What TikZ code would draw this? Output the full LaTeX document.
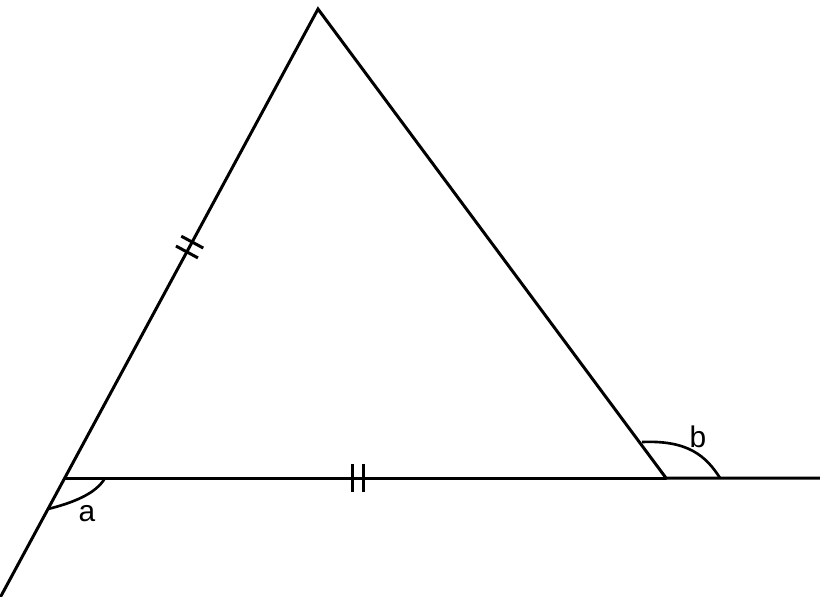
\documentclass[tikz,border=0pt]{standalone}
\usepackage{fontspec}
\setmainfont{Liberation Sans}
\usepackage{tikz}
\usetikzlibrary{calc}
\tikzstyle{side} = [line width=1.7pt, line cap=round]
\tikzstyle{tickmark} = [line width=1.7pt]
\tikzstyle{anglemark} = [line width=1.5pt]
\tikzstyle{anglelabel} = [font=\fontsize{17}{20}\selectfont, inner sep=0pt]

\begin{document}
\begin{tikzpicture}[x=0.02cm, y=-0.02cm]
        \useasboundingbox (0,0) rectangle (820,596);
        \coordinate (A) at (65,478);
        \coordinate (B) at (666,478);
        \coordinate (C) at (318,9);
        \coordinate (D) at (1,596);
        \coordinate (E) at (820,478);
        % sides and extensions
        \draw [side] (D) -- (C) -- (B) -- (E);
        \draw [side] (A) -- (B);
        % equal sides
        \coordinate (m1) at ($(A)!0.482!(C)$);
        \coordinate (m2) at ($(A)!0.503!(C)$);
        \coordinate (m3) at ($(A)!0.479!(B)$);
        \coordinate (m4) at ($(A)!0.496!(B)$);
        \draw [tickmark] ($(m1)!0.25cm!90:(C)$) -- ($(m1)!0.25cm!-90:(C)$);
        \draw [tickmark] ($(m2)!0.25cm!90:(C)$) -- ($(m2)!0.25cm!-90:(C)$);
        \draw [tickmark] ($(m3)!0.28cm!90:(B)$) -- ($(m3)!0.28cm!-90:(B)$);
        \draw [tickmark] ($(m4)!0.28cm!90:(B)$) -- ($(m4)!0.28cm!-90:(B)$);
        % angles
        \coordinate (a1) at (105,478);
        \coordinate (a2) at (48,509);
        \coordinate (b1) at (642,442);
        \coordinate (b2) at (720,478);
        \draw [anglemark] (a1) .. controls (96,494) and (72,503) .. (a2);
        \draw [anglemark] (b1) .. controls (688,440) and (706,456) .. (b2);
        \node (la) [anglelabel] at (87,514) {a};
        \node (lb) [anglelabel] at (698,437) {b};
\end{tikzpicture}
\end{document}
